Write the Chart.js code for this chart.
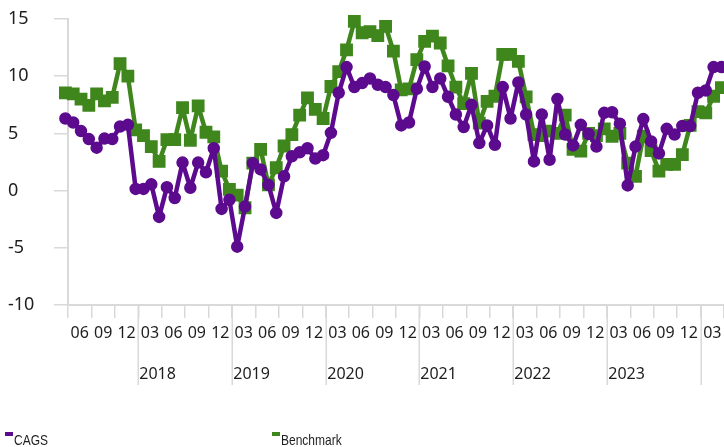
<!DOCTYPE html>
<html>
<head>
<meta charset="utf-8">
<script src="https://cdn.jsdelivr.net/npm/chart.js@4.4.0/dist/chart.umd.min.js"></script>
<style>
  html, body { margin: 0; padding: 0; background: #fff; }
  #wrap { width: 724px; height: 447px; position: relative; }
</style>
</head>
<body>
<div id="wrap"><canvas id="chart"></canvas></div>
<script>
// monthly returns, first point is March 2017, last March 2024
const firstYear = 2017;
const firstMonth = 3;

const cags = [
  6.3, 5.95, 5.2, 4.5, 3.75, 4.55, 4.5, 5.6, 5.75, 0.15,
  0.15, 0.55, -2.3, 0.3, -0.65, 2.45, 0.25, 2.45, 1.6, 3.7,
  -1.6, -0.8, -4.9, -1.4, 2.4, 1.85, 0.5, -1.95, 1.25, 3.0,
  3.35, 3.7, 2.8, 3.1, 5.05, 8.55, 10.8, 9.05, 9.4, 9.8,
  9.25, 9.05, 8.35, 5.7, 5.95, 8.9, 10.85, 9.05, 9.8, 8.2,
  6.65, 5.55, 7.5, 4.15, 5.7, 4.0, 9.05, 6.3, 9.45, 6.65,
  2.55, 6.65, 2.7, 8.0, 4.9, 3.95, 5.75, 4.95, 3.85, 6.8,
  6.85, 5.85, 0.45, 3.85, 6.25, 4.3, 3.25, 5.4, 4.9, 5.65,
  5.65, 8.55, 8.75, 10.8, 10.8
];

const benchmark = [
  8.55, 8.45, 8.0, 7.45, 8.45, 7.85, 8.15, 11.1, 10.0, 5.3,
  4.8, 3.85, 2.55, 4.45, 4.45, 7.25, 4.4, 7.4, 5.1, 4.7,
  1.7, 0.1, -0.4, -1.5, 2.4, 3.6, 0.5, 2.0, 3.9, 4.9,
  6.6, 8.1, 7.1, 6.3, 9.1, 10.4, 12.3, 14.8, 13.8, 13.9,
  13.55, 14.35, 12.2, 8.8, 8.9, 11.45, 13.05, 13.5, 12.9, 10.9,
  9.05, 7.6, 10.25, 5.9, 7.8, 8.25, 11.9, 11.9, 11.3, 8.2,
  4.9, 4.8, 5.2, 5.0, 6.6, 3.6, 3.45, 5.0, 4.8, 5.4,
  4.75, 5.0, 2.4, 1.25, 4.75, 3.5, 1.7, 2.3, 2.3, 3.15,
  5.7, 6.9, 6.8, 8.25, 9.0
];

const quarterLabels = ['03', '06', '09', '12'];
const yearLabels = ['2018', '2019', '2020', '2021', '2022', '2023'];
const yTicks = [-10, -5, 0, 5, 10, 15];

const purple = '#5c0a8e';
const green = '#3f871c';
const axisColor = '#d9d9d9';
const textColor = '#1e1e1e';

// month number (1..12) of every point
const monthOf = i => (firstMonth - 1 + i) % 12 + 1;

// points sit 2/3 of a month before the next period boundary
const boundary = i => i - 2 / 3;
const xMin = boundary(1);
const xMax = boundary(cags.length);

const quarterCentres = [];
for (let i = 1; i < cags.length; i += 3) quarterCentres.push(boundary(i) + 1.5);

const toPoints = arr => arr.map((v, i) => ({ x: i, y: v }));

const yearAxis = {
  id: 'yearAxis',
  afterDraw(chart) {
    const { ctx, scales: { x } } = chart;
    ctx.save();
    ctx.strokeStyle = axisColor;
    ctx.lineWidth = 1.5;
    ctx.fillStyle = textColor;
    ctx.font = '16px "Noto Sans"';
    ctx.textAlign = 'left';
    ctx.textBaseline = 'middle';
    let n = 0;
    for (let i = 1; i < cags.length; i++) {
      if (monthOf(i) !== 1) continue;
      const px = Math.round(x.getPixelForValue(boundary(i))) + 0.25;
      ctx.beginPath();
      ctx.moveTo(px, x.top);
      ctx.lineTo(px, x.top + 80);
      ctx.stroke();
      if (n < yearLabels.length) ctx.fillText(yearLabels[n], px + 1, x.top + 69);
      n++;
    }
    ctx.restore();
  }
};

const bottomLegend = {
  id: 'bottomLegend',
  afterDraw(chart) {
    const { ctx } = chart;
    const items = [
      { text: 'CAGS', color: purple, x: 5 },
      { text: 'Benchmark', color: green, x: 272 }
    ];
    ctx.save();
    ctx.font = '15px "Liberation Sans", sans-serif';
    ctx.textBaseline = 'alphabetic';
    ctx.textAlign = 'left';
    items.forEach(it => {
      ctx.fillStyle = it.color;
      ctx.fillRect(it.x, 432, 8, 4);
      // the legend font is a narrow one, so squeeze the text sideways
      ctx.save();
      ctx.translate(it.x + 9, 445);
      ctx.scale(0.8, 1);
      ctx.fillStyle = textColor;
      ctx.fillText(it.text, 0, 0);
      ctx.restore();
    });
    ctx.restore();
  }
};

Chart.defaults.font.family = '"Noto Sans", sans-serif';
Chart.defaults.color = textColor;

new Chart(document.getElementById('chart'), {
  type: 'line',
  data: {
    datasets: [
      {
        label: 'CAGS',
        data: toPoints(cags),
        borderColor: purple,
        backgroundColor: purple,
        borderWidth: 4.5,
        borderJoinStyle: 'round',
        borderCapStyle: 'round',
        pointRadius: 5.5,
        pointBorderWidth: 1.5,
        pointStyle: 'circle',
        tension: 0,
        clip: false
      },
      {
        label: 'Benchmark',
        data: toPoints(benchmark),
        borderColor: green,
        backgroundColor: green,
        borderWidth: 4.5,
        borderJoinStyle: 'round',
        borderCapStyle: 'round',
        pointRadius: 8,
        pointBorderWidth: 1.5,
        pointStyle: 'rect',
        tension: 0,
        clip: false
      }
    ]
  },
  plugins: [yearAxis, bottomLegend],
  options: {
    responsive: true,
    maintainAspectRatio: false,
    animation: false,
    events: [],
    layout: { autoPadding: false, padding: { top: 19, left: 8, right: 0, bottom: 0 } },
    plugins: {
      legend: { display: false },
      tooltip: { enabled: false }
    },
    scales: {
      x: {
        type: 'linear',
        bounds: 'data',
        min: xMin,
        max: xMax,
        afterBuildTicks: scale => {
          scale.ticks = quarterCentres.map(v => ({ value: v }));
        },
        afterFit: scale => {
          scale.height = 142;
          scale.paddingLeft = 0;
          scale.paddingRight = 0;
        },
        ticks: {
          autoSkip: false,
          maxRotation: 0,
          padding: 6,
          font: { size: 16 },
          color: textColor,
          callback: value => {
            const i = Math.round(value - 1.5 + 2 / 3) + 2;
            return quarterLabels[Math.floor((monthOf(i) - 1) / 3)];
          }
        },
        grid: {
          offset: true,
          drawOnChartArea: false,
          drawTicks: true,
          tickLength: 13,
          color: axisColor,
          lineWidth: 1.5
        },
        border: { color: axisColor, width: 2 }
      },
      y: {
        min: -10,
        max: 15,
        afterBuildTicks: scale => {
          scale.ticks = yTicks.map(v => ({ value: v }));
        },
        afterFit: scale => { scale.width = 60; },
        ticks: {
          crossAlign: 'far',
          padding: 6,
          font: { size: 18 },
          color: textColor
        },
        grid: {
          drawOnChartArea: false,
          drawTicks: true,
          tickLength: 14,
          color: axisColor,
          lineWidth: 1.5
        },
        border: { color: axisColor, width: 2 }
      }
    }
  }
});
</script>
</body>
</html>
